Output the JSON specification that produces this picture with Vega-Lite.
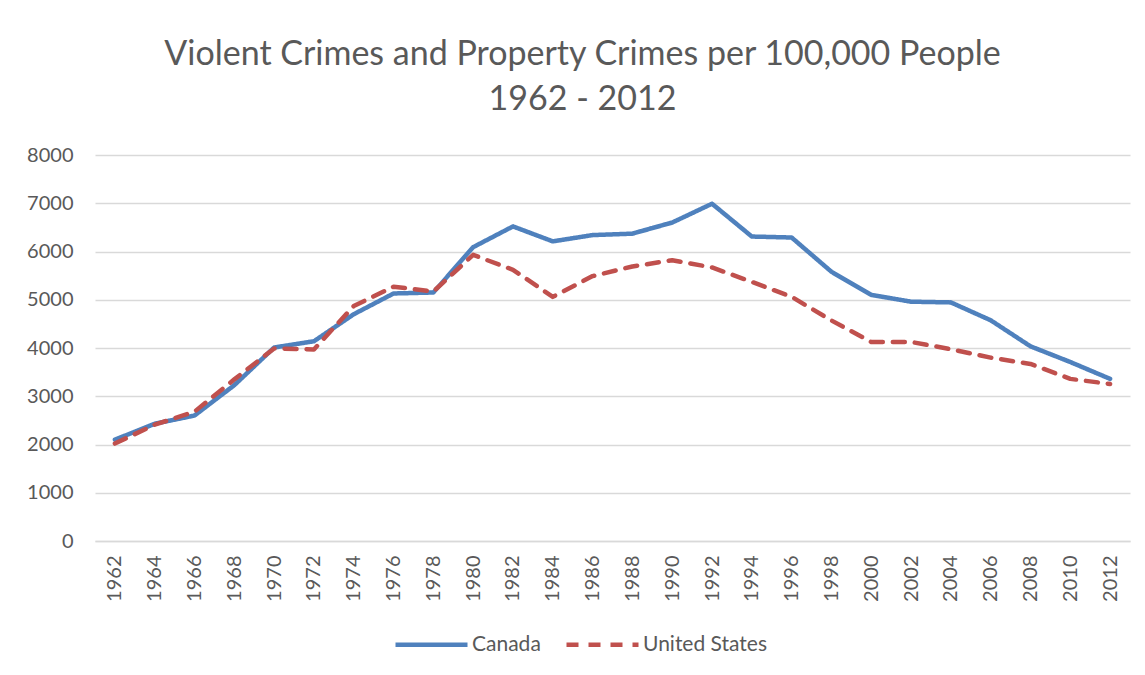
{
  "$schema": "https://vega.github.io/schema/vega-lite/v6.json",
  "autosize": {"type": "none"},
  "width": 1035,
  "height": 386,
  "padding": {"left": 95, "top": 155, "right": 15, "bottom": 134},
  "background": "white",
  "config": {
    "font": "Lato",
    "view": {"stroke": null},
    "axis": {"labelColor": "#595959", "labelFont": "Lato", "labelFontSize": 20},
    "legend": {"labelColor": "#595959", "labelFont": "Lato", "labelFontSize": 21}
  },
  "title": {
    "text": ["Violent Crimes and Property Crimes per 100,000 People", "1962 - 2012"],
    "font": "Lato",
    "fontSize": 34,
    "fontWeight": "normal",
    "color": "#595959",
    "anchor": "middle",
    "frame": "group",
    "dx": -30,
    "offset": 28,
    "lineHeight": 45
  },
  "data": {
    "values": [
      {"year": "1962", "country": "Canada", "rate": 2100},
      {"year": "1964", "country": "Canada", "rate": 2430},
      {"year": "1966", "country": "Canada", "rate": 2600},
      {"year": "1968", "country": "Canada", "rate": 3230},
      {"year": "1970", "country": "Canada", "rate": 4010},
      {"year": "1972", "country": "Canada", "rate": 4140},
      {"year": "1974", "country": "Canada", "rate": 4700},
      {"year": "1976", "country": "Canada", "rate": 5130},
      {"year": "1978", "country": "Canada", "rate": 5150},
      {"year": "1980", "country": "Canada", "rate": 6090},
      {"year": "1982", "country": "Canada", "rate": 6520},
      {"year": "1984", "country": "Canada", "rate": 6210},
      {"year": "1986", "country": "Canada", "rate": 6340},
      {"year": "1988", "country": "Canada", "rate": 6370},
      {"year": "1990", "country": "Canada", "rate": 6600},
      {"year": "1992", "country": "Canada", "rate": 6990},
      {"year": "1994", "country": "Canada", "rate": 6310},
      {"year": "1996", "country": "Canada", "rate": 6290},
      {"year": "1998", "country": "Canada", "rate": 5580},
      {"year": "2000", "country": "Canada", "rate": 5100},
      {"year": "2002", "country": "Canada", "rate": 4960},
      {"year": "2004", "country": "Canada", "rate": 4945},
      {"year": "2006", "country": "Canada", "rate": 4575},
      {"year": "2008", "country": "Canada", "rate": 4035},
      {"year": "2010", "country": "Canada", "rate": 3710},
      {"year": "2012", "country": "Canada", "rate": 3360},
      {"year": "1962", "country": "United States", "rate": 2020},
      {"year": "1964", "country": "United States", "rate": 2410},
      {"year": "1966", "country": "United States", "rate": 2680},
      {"year": "1968", "country": "United States", "rate": 3350},
      {"year": "1970", "country": "United States", "rate": 3990},
      {"year": "1972", "country": "United States", "rate": 3970},
      {"year": "1974", "country": "United States", "rate": 4870},
      {"year": "1976", "country": "United States", "rate": 5270},
      {"year": "1978", "country": "United States", "rate": 5170},
      {"year": "1980", "country": "United States", "rate": 5930},
      {"year": "1982", "country": "United States", "rate": 5620},
      {"year": "1984", "country": "United States", "rate": 5060},
      {"year": "1986", "country": "United States", "rate": 5490},
      {"year": "1988", "country": "United States", "rate": 5690},
      {"year": "1990", "country": "United States", "rate": 5820},
      {"year": "1992", "country": "United States", "rate": 5670},
      {"year": "1994", "country": "United States", "rate": 5370},
      {"year": "1996", "country": "United States", "rate": 5060},
      {"year": "1998", "country": "United States", "rate": 4570},
      {"year": "2000", "country": "United States", "rate": 4125},
      {"year": "2002", "country": "United States", "rate": 4125},
      {"year": "2004", "country": "United States", "rate": 3975},
      {"year": "2006", "country": "United States", "rate": 3800},
      {"year": "2008", "country": "United States", "rate": 3670},
      {"year": "2010", "country": "United States", "rate": 3360},
      {"year": "2012", "country": "United States", "rate": 3255}
    ]
  },
  "mark": {"type": "line", "strokeWidth": 4.5, "strokeCap": "round", "strokeJoin": "round"},
  "encoding": {
    "x": {
      "field": "year",
      "type": "ordinal",
      "scale": {"type": "point", "padding": 0.5},
      "axis": {
        "title": null,
        "labelAngle": -90,
        "labelPadding": 14,
        "ticks": false,
        "domain": true,
        "domainColor": "#d9d9d9",
        "domainWidth": 1.3,
        "grid": false
      }
    },
    "y": {
      "field": "rate",
      "type": "quantitative",
      "scale": {"domain": [0, 8000], "nice": false},
      "axis": {
        "title": null,
        "values": [0, 1000, 2000, 3000, 4000, 5000, 6000, 7000, 8000],
        "format": "d",
        "domain": false,
        "ticks": false,
        "labelPadding": 22,
        "gridColor": "#d9d9d9",
        "gridWidth": 1.3
      }
    },
    "color": {
      "field": "country",
      "type": "nominal",
      "scale": {"domain": ["Canada", "United States"], "range": ["#4f81bd", "#c0504d"]},
      "legend": {
        "title": null,
        "orient": "none",
        "direction": "horizontal",
        "legendX": 298,
        "legendY": 451,
        "symbolType": "stroke",
        "symbolSize": 5184,
        "symbolStrokeWidth": 4.5,
        "labelOffset": 2,
        "columnPadding": 16
      }
    },
    "strokeDash": {
      "field": "country",
      "type": "nominal",
      "scale": {"domain": ["Canada", "United States"], "range": [[1, 0], [12, 10]]},
      "legend": {
        "title": null,
        "orient": "none",
        "direction": "horizontal",
        "legendX": 298,
        "legendY": 451,
        "symbolType": "stroke",
        "symbolSize": 5184,
        "symbolStrokeWidth": 4.5,
        "labelOffset": 2,
        "columnPadding": 16
      }
    }
  }
}
